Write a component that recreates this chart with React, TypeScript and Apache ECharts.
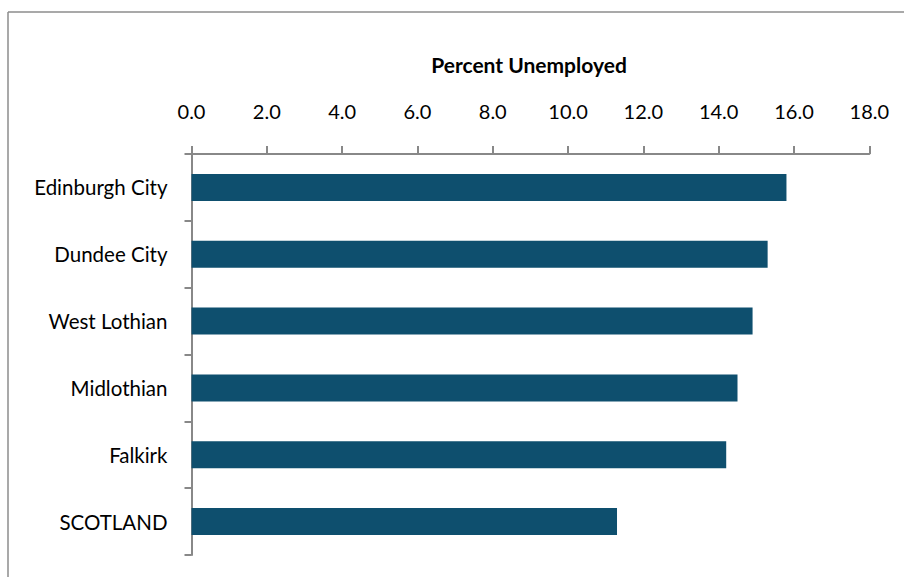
import React, { useEffect, useRef } from "react";
import * as echarts from "echarts";

const categories = ["Edinburgh City", "Dundee City", "West Lothian", "Midlothian", "Falkirk", "SCOTLAND"];
const values = [15.8, 15.3, 14.9, 14.5, 14.2, 11.3];
const axisTitle = "Percent Unemployed";

export default function App() {
  const ref = useRef<HTMLDivElement>(null);
  useEffect(() => {
    document.body.style.margin = "0";
    const chart = echarts.init(ref.current!, null, { renderer: "svg" });
    const font = "Lato";
    chart.setOption({
      animation: false,
      backgroundColor: "#ffffff",
      grid: { left: 191.5, right: 34.7, top: 154, bottom: 22, containLabel: false },
      graphic: [
        { type: "line", shape: { x1: 8, y1: 12, x2: 904, y2: 12 }, style: { stroke: "#8c8c8c", lineWidth: 1.5 } },
        { type: "line", shape: { x1: 8, y1: 12, x2: 8, y2: 577 }, style: { stroke: "#8c8c8c", lineWidth: 1.5 } },
        {
          type: "text",
          x: 529,
          y: 64,
          style: {
            text: axisTitle,
            fontFamily: font,
            fontWeight: "bold",
            fontSize: 21,
            fill: "#000",
            align: "center",
            verticalAlign: "middle",
          },
        },
      ],
      xAxis: {
        type: "value",
        position: "top",
        min: 0,
        max: 18,
        interval: 2,
        axisLine: { show: true, lineStyle: { color: "#888", width: 2 } },
        axisTick: { show: true, inside: false, length: 8, lineStyle: { color: "#888", width: 2 } },
        splitLine: { show: false },
        axisLabel: {
          margin: 33,
          color: "#000",
          fontFamily: font,
          fontSize: 20,
          formatter: (v: number) => v.toFixed(1),
        },
      },
      yAxis: {
        type: "category",
        inverse: true,
        data: categories,
        axisLine: { show: true, lineStyle: { color: "#888", width: 2 } },
        axisTick: { show: true, length: 7, alignWithLabel: false, lineStyle: { color: "#888", width: 2 } },
        axisLabel: { margin: 24, color: "#000", fontFamily: font, fontSize: 20.5 },
      },
      series: [
        {
          type: "bar",
          data: values,
          barWidth: 27,
          itemStyle: { color: "#0e4f6e" },
        },
      ],
    });
    return () => chart.dispose();
  }, []);
  return <div ref={ref} style={{ position: "absolute", left: 0, top: 0, width: 904, height: 577 }} />;
}
